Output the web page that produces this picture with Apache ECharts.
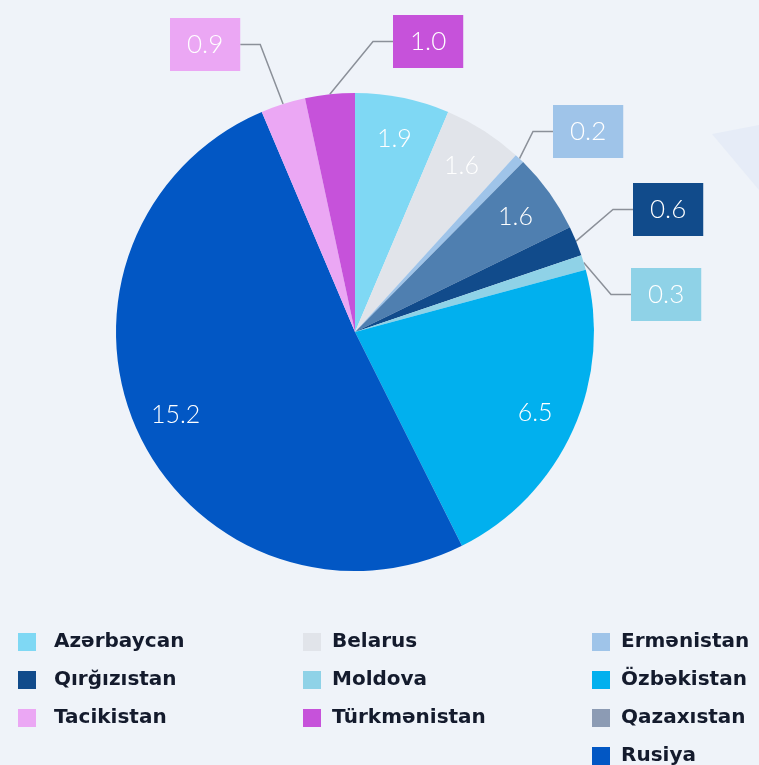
<!DOCTYPE html>
<html>
<head>
<meta charset="utf-8">
<style>
  html, body { margin: 0; padding: 0; background: #eff3f9; }
  #main { width: 759px; height: 765px; }
</style>
<script src="https://cdn.jsdelivr.net/npm/echarts@6/dist/echarts.min.js"></script>
</head>
<body>
<div id="main"></div>
<script>
// ölkələr (saat əqrəbi istiqamətində, yuxarıdan)
var countries = ['Azərbaycan', 'Belarus', 'Ermənistan', 'Qazaxıstan', 'Qırğızıstan',
    'Moldova', 'Özbəkistan', 'Rusiya', 'Tacikistan', 'Türkmənistan'];
var values = [1.9, 1.6, 0.2, 1.6, 0.6, 0.3, 6.5, 15.2, 0.9, 1.0];
var colors = ['#7fd8f4', '#e1e4ea', '#9fc4e9', '#4f7fb0', '#114b8b',
    '#8fd2e7', '#01b0ee', '#0257c4', '#eba7f4', '#c652da'];

// legend sütunları
var legendCol1 = ['Azərbaycan', 'Qırğızıstan', 'Tacikistan'];
var legendCol2 = ['Belarus', 'Moldova', 'Türkmənistan'];
var legendCol3 = ['Ermənistan', 'Özbəkistan', 'Qazaxıstan', 'Rusiya'];

// kiçik paylar çöldə, qutu içində
var outsideLimit = 1.5;
var boxPos = {
    'Tacikistan': [170, 18],
    'Türkmənistan': [393, 15],
    'Ermənistan': [553, 105],
    'Qırğızıstan': [633, 183],
    'Moldova': [631, 268]
};

function fmt(p) {
    return p.value.toFixed(1);
}

function legendItems(list) {
    return list.map(function (name) {
        // legend-də Qazaxıstan nişanı bozumtul görünür
        if (name === 'Qazaxıstan') return {name: name, itemStyle: {color: '#8c9bb4'}};
        return {name: name};
    });
}

var chart = echarts.init(document.getElementById('main'));

var mainData = countries.map(function (name, i) {
    var out = values[i] < outsideLimit;
    return {
        name: name,
        value: values[i],
        itemStyle: {color: colors[i]},
        label: out ? {
            show: true,
            position: 'outside',
            formatter: fmt,
            backgroundColor: colors[i],
            color: '#fff',
            padding: [14, 17, 13, 17],
            fontSize: 26,
            lineHeight: 26,
            fontFamily: 'Lato',
            fontWeight: 300
        } : {show: false},
        labelLine: {show: out}
    };
});

var innerData = countries.map(function (name, i) {
    return {
        name: name,
        value: values[i],
        label: {show: values[i] >= outsideLimit}
    };
});

var legendBase = {
    orient: 'vertical',
    icon: 'rect',
    itemWidth: 18,
    itemHeight: 18,
    itemGap: 18,
    top: 632,
    height: 160,
    padding: 0,
    selectedMode: false,
    textStyle: {
        fontSize: 20,
        lineHeight: 20,
        fontWeight: 'bold',
        fontFamily: 'DejaVu Sans',
        color: '#141b2d',
        padding: [0, 0, 0, 6]
    }
};

var option = {
    backgroundColor: '#eff3f9',
    graphic: [{
        type: 'polygon',
        shape: {points: [[712, 134], [759, 125], [759, 190]]},
        style: {fill: '#e6ecf7'},
        silent: true
    }],
    legend: [
        echarts.util.merge({left: 18, data: legendItems(legendCol1), textStyle: {padding: [0, 0, 0, 13]}}, legendBase),
        echarts.util.merge({left: 303, data: legendItems(legendCol2)}, legendBase),
        echarts.util.merge({left: 592, data: legendItems(legendCol3)}, legendBase)
    ],
    series: [
        {
            name: 'pay',
            type: 'pie',
            center: [355, 332],
            radius: [0, 239],
            startAngle: 90,
            silent: true,
            avoidLabelOverlap: false,
            labelLine: {
                length: 20,
                length2: 20,
                smooth: false,
                lineStyle: {color: '#8b9099', width: 1.5}
            },
            labelLayout: function (params) {
                var p = boxPos[countries[params.dataIndex]];
                if (!p) return {};
                return {x: p[0], y: p[1], align: 'left', verticalAlign: 'top'};
            },
            data: mainData
        },
        {
            name: 'etiket',
            type: 'pie',
            center: [355, 332],
            radius: [150, 239],
            startAngle: 90,
            silent: true,
            itemStyle: {color: 'rgba(0,0,0,0)', borderWidth: 0},
            label: {
                position: 'inside',
                formatter: fmt,
                color: '#fff',
                fontSize: 25,
                fontFamily: 'Lato',
                fontWeight: 300
            },
            labelLine: {show: false},
            data: innerData
        }
    ]
};

chart.setOption(option);
</script>
</body>
</html>
